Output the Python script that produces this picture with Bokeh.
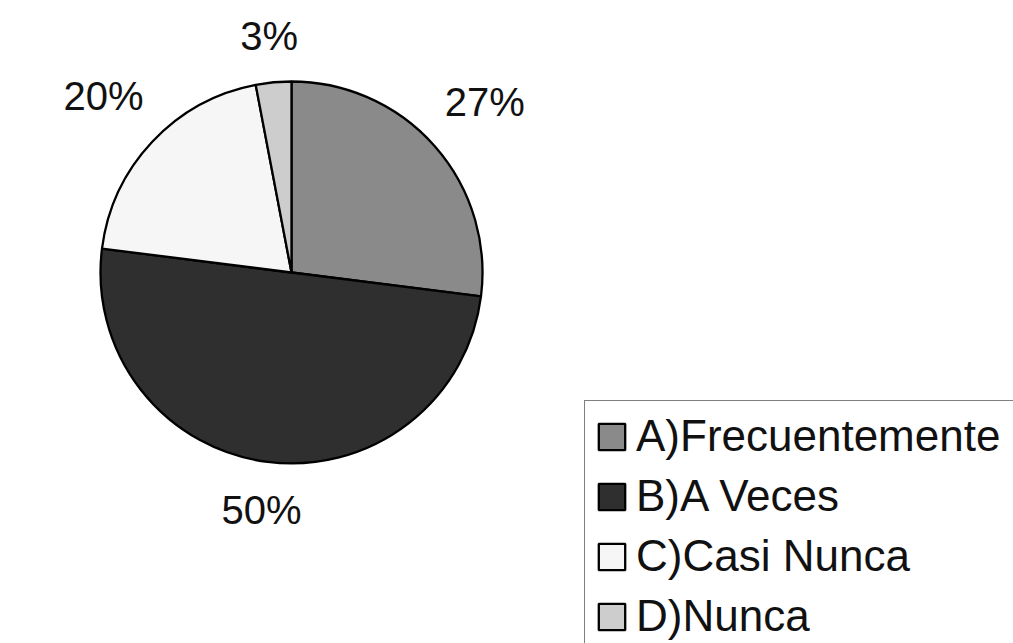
import numpy as np
from bokeh.plotting import figure
from bokeh.models import ColumnDataSource, Range1d, Legend, LegendItem
from bokeh.core.properties import value
from bokeh.embed import file_html
from bokeh.resources import INLINE

# ---- data ----
categories = ["A)Frecuentemente", "B)A Veces", "C)Casi Nunca", "D)Nunca"]
values = [27, 50, 20, 3]
pct_labels = ["27%", "50%", "20%", "3%"]
colors = ["#8a8a8a", "#2f2f2f", "#f6f6f6", "#cdcdcd"]

W, H = 1013, 643
FONT = "Liberation Sans"

# pie geometry (screen-pixel data units)
cx, cy, R = 291, 371, 191

vals = np.array(values, dtype=float)
frac = vals / vals.sum()
cum = np.concatenate([[0], np.cumsum(frac)])
start = np.pi / 2 - 2 * np.pi * cum[:-1]
end = np.pi / 2 - 2 * np.pi * cum[1:]
mid = (start + end) / 2

src = ColumnDataSource(dict(
    start=start, end=end, color=colors, label=categories,
))

p = figure(width=W, height=H, x_range=Range1d(0, W), y_range=Range1d(0, H),
           output_backend="svg", toolbar_location=None,
           x_axis_location=None, y_axis_location=None, min_border=0)
p.grid.visible = False
p.outline_line_color = None
p.background_fill_color = "white"
p.border_fill_color = "white"

r = p.wedge(x=cx, y=cy, radius=R, start_angle="start", end_angle="end",
            direction="clock", fill_color="color", line_color="black",
            line_width=2.3, source=src)

# percentage labels placed outside along mid-angle (box-aware distance)
lr = 233 + 25 * np.abs(np.sin(2 * mid))
lab_src = ColumnDataSource(dict(
    x=cx + lr * np.cos(mid), y=cy + lr * np.sin(mid), text=pct_labels,
))
p.text(x="x", y="y", text="text", source=lab_src, text_align="center",
       text_baseline="middle", text_font=value(FONT), text_font_size="40px",
       text_color="#111111")

legend = Legend(
    items=[LegendItem(label=categories[i], renderers=[r], index=i) for i in range(len(categories))],
    location=(584, -9),
    label_text_font=FONT, label_text_font_size="44px", label_text_color="#111111",
    glyph_width=33, glyph_height=33, label_standoff=8, label_width=400,
    padding=10, spacing=10, margin=0,
    border_line_color="black", border_line_width=1.5,
    background_fill_color="white", background_fill_alpha=1.0,
)
p.add_layout(legend, "center")

open("out.html", "w").write(file_html(p, INLINE))
